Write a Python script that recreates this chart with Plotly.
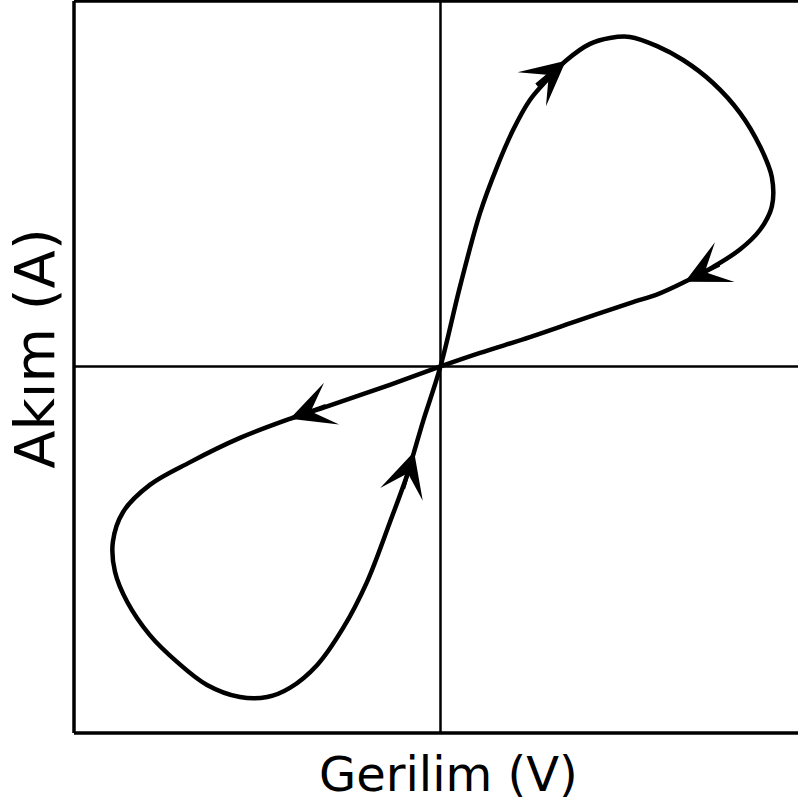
import numpy as np
import plotly.graph_objects as go

# Pinched hysteresis loop (normalised voltage / current), traversed in order
VOLTAGE = [0.0, 0.053, 0.108, 0.154, 0.198, 0.244, 0.293, 0.342, 0.408, 0.462, 0.517, 0.591,
           0.662, 0.743, 0.817, 0.872, 0.904, 0.904, 0.872, 0.817, 0.743, 0.667, 0.595,
           0.517, 0.381, 0.244, 0.108, 0.0,
           -0.138, -0.321, -0.411, -0.547, -0.683, -0.793, -0.866, -0.894, -0.888, -0.855,
           -0.793, -0.719, -0.637, -0.547, -0.473, -0.411, -0.337, -0.266, -0.201, -0.138,
           -0.091, -0.072, -0.048, 0.0]
CURRENT = [0.0, 0.217, 0.419, 0.544, 0.645, 0.727, 0.784, 0.834, 0.880, 0.896, 0.899, 0.874,
           0.836, 0.774, 0.692, 0.600, 0.517, 0.436, 0.373, 0.319, 0.271, 0.231, 0.198,
           0.173, 0.127, 0.080, 0.037, 0.0,
           -0.050, -0.113, -0.143, -0.195, -0.261, -0.323, -0.397, -0.479, -0.561, -0.642,
           -0.733, -0.806, -0.869, -0.902, -0.902, -0.877, -0.815, -0.714, -0.589, -0.425,
           -0.296, -0.233, -0.151, 0.0]
ARROW_INDICES = [7, 21, 30, 49]

X_LABEL = "Gerilim (V)"
Y_LABEL = "Akım (A)"

fig = go.Figure()
fig.add_trace(go.Scatter(x=VOLTAGE, y=CURRENT, mode="lines",
                         line=dict(color="black", width=4.5, shape="spline", smoothing=1.0),
                         hoverinfo="skip", showlegend=False))

v = np.array(VOLTAGE)
c = np.array(CURRENT)
annotations = []
for k in ARROW_INDICES:
    d = np.array([v[k + 1] - v[k - 1], c[k + 1] - c[k - 1]])
    d = d / np.linalg.norm(d)
    annotations.append(dict(x=v[k], y=c[k], ax=-40 * d[0], ay=40 * d[1], xref="x", yref="y",
                            text="", showarrow=True, arrowhead=3,
                            arrowsize=1.85, arrowwidth=4, arrowcolor="black", standoff=0))

annotations.append(dict(text=X_LABEL, xref="paper", yref="paper", x=0.5166, y=-0.056,
                        xanchor="center", yanchor="middle", showarrow=False,
                        font=dict(family="DejaVu Sans", size=48, color="black")))
annotations.append(dict(text=Y_LABEL, xref="paper", yref="paper", x=-0.054, y=0.526,
                        xanchor="center", yanchor="middle", showarrow=False, textangle=-90,
                        font=dict(family="DejaVu Sans", size=56, color="black")))

shapes = [
    dict(type="line", xref="paper", yref="paper", x0=0, x1=0, y0=0, y1=1, line=dict(color="black", width=3.5)),
    dict(type="line", xref="paper", yref="paper", x0=0, x1=1, y0=1, y1=1, line=dict(color="black", width=3.5)),
    dict(type="line", xref="paper", yref="paper", x0=0, x1=1, y0=0, y1=0, line=dict(color="black", width=3.5)),
    dict(type="line", xref="x", yref="paper", x0=0, x1=0, y0=0, y1=1, line=dict(color="black", width=2.5)),
    dict(type="line", xref="paper", yref="y", x0=0, x1=1, y0=0, y1=0, line=dict(color="black", width=2.5)),
]

fig.update_layout(
    width=798, height=809,
    margin=dict(l=74, r=0, t=1, b=76),
    paper_bgcolor="white", plot_bgcolor="white",
    xaxis=dict(range=[-1, 0.9755], showgrid=False, zeroline=False, showticklabels=False,
               ticks="", showline=False, fixedrange=True),
    yaxis=dict(range=[-1, 0.997], showgrid=False, zeroline=False, showticklabels=False,
               ticks="", showline=False, fixedrange=True),
    shapes=shapes, annotations=annotations, showlegend=False,
)

fig.write_html("out.html", config={"displayModeBar": False},
               post_script="document.body.style.margin='0';document.body.style.overflow='hidden';")
